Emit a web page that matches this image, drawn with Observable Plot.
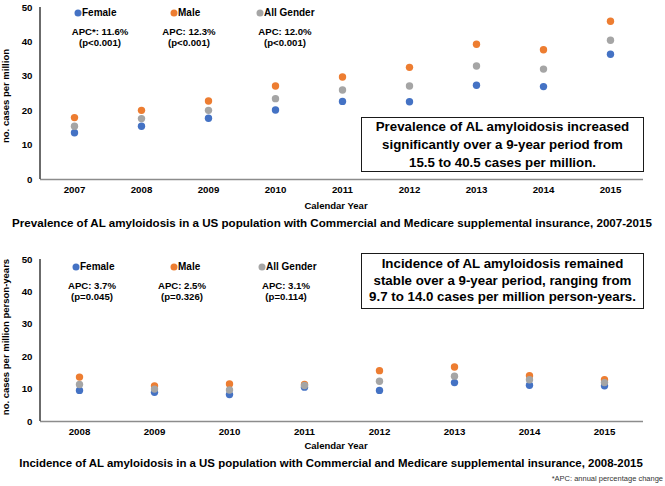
<!DOCTYPE html>
<html>
<head>
<meta charset="utf-8">
<script src="https://cdn.jsdelivr.net/npm/d3@7"></script>
<script src="https://cdn.jsdelivr.net/npm/@observablehq/plot@0.6"></script>
<style>
  html, body { margin: 0; padding: 0; background: #fff; }
  #wrap { position: relative; width: 665px; height: 486px; overflow: hidden; font-family: "Liberation Sans", Arial, sans-serif; color: #000; }
  .t { position: absolute; white-space: nowrap; font-weight: bold; line-height: 1.15; }
  .c { transform: translate(-50%, -50%); }
  .l { transform: translate(0, -50%); }
  .box { position: absolute; box-sizing: border-box; border: 1.6px solid #1a1a1a; display: flex; align-items: center; justify-content: center; text-align: center; font-weight: bold; font-size: 13.3px; background: #fff; }
  .dot { position: absolute; width: 7px; height: 7px; border-radius: 50%; transform: translate(-50%, -50%); }
  svg { position: absolute; left: 0; }
</style>
</head>
<body>
<div id="wrap"></div>
<script>
// ---------- data ----------
const seriesNames = ["Female", "Male", "All Gender"];
const seriesColors = ["#4472C4", "#ED7D31", "#A5A5A5"];

const prevYears = ["2007", "2008", "2009", "2010", "2011", "2012", "2013", "2014", "2015"];
const prevFemale = [13.6, 15.5, 17.8, 20.2, 22.7, 22.6, 27.4, 27.0, 36.4];
const prevMale   = [18.0, 20.1, 22.8, 27.2, 29.8, 32.6, 39.3, 37.7, 46.0];
const prevAll    = [15.5, 17.7, 20.1, 23.5, 26.0, 27.2, 33.0, 32.1, 40.5];
const prevAPC = ["APC*: 11.6%", "APC: 12.3%", "APC: 12.0%"];
const prevP   = ["(p<0.001)", "(p<0.001)", "(p<0.001)"];

const incYears = ["2008", "2009", "2010", "2011", "2012", "2013", "2014", "2015"];
const incFemale = [9.6, 9.0, 8.3, 10.6, 9.6, 12.0, 11.2, 11.0];
const incMale   = [13.7, 11.0, 11.6, 11.4, 15.7, 16.8, 14.1, 12.9];
const incAll    = [11.4, 10.0, 9.7, 11.1, 12.4, 14.0, 12.9, 12.0];
const incAPC = ["APC: 3.7%", "APC: 2.5%", "APC: 3.1%"];
const incP   = ["(p=0.045)", "(p=0.326)", "(p=0.114)"];

const yTicks = [0, 10, 20, 30, 40, 50];

// ---------- helpers ----------
const wrap = document.getElementById("wrap");
function txt(s, x, y, size, cls, extra) {
  const d = document.createElement("div");
  d.className = "t " + cls;
  d.textContent = s;
  d.style.left = x + "px"; d.style.top = y + "px"; d.style.fontSize = size + "px";
  if (extra) Object.assign(d.style, extra);
  wrap.appendChild(d);
  return d;
}
function legendDot(color, x, y) {
  const d = document.createElement("div");
  d.className = "dot"; d.style.background = color;
  d.style.left = x + "px"; d.style.top = y + "px";
  wrap.appendChild(d);
}
function box(lines, x, y, w, h, lh) {
  const d = document.createElement("div");
  d.className = "box";
  Object.assign(d.style, {left: x + "px", top: y + "px", width: w + "px", height: h + "px", lineHeight: lh + "px"});
  d.innerHTML = lines.join("<br>");
  wrap.appendChild(d);
}

function panel(years, F, M, A, height, marginTop, marginBottom, top) {
  const data = [];
  [[F, "Female"], [M, "Male"], [A, "All Gender"]].forEach(([arr, name]) =>
    years.forEach((yr, i) => data.push({year: yr, series: name, value: arr[i]})));
  const yAxisLine = (index, scales, values, dims) => {
    const l = document.createElementNS("http://www.w3.org/2000/svg", "line");
    l.setAttribute("x1", dims.marginLeft); l.setAttribute("x2", dims.marginLeft);
    l.setAttribute("y1", scales.y(0)); l.setAttribute("y2", scales.y(50));
    l.setAttribute("stroke", "#3a3a3a"); l.setAttribute("stroke-width", 1.5);
    return l;
  };
  const svg = Plot.plot({
    width: 665, height, marginLeft: 40, marginRight: 22, marginTop, marginBottom,
    style: {fontFamily: '"Liberation Sans", Arial, sans-serif', fontSize: "9.7px", fontWeight: "bold", color: "#000", background: "transparent", overflow: "visible"},
    x: {type: "point", domain: years, padding: 0.5, tickSize: 0, tickPadding: 7, label: null},
    y: {domain: [0, 50], ticks: yTicks, tickSize: 0, tickPadding: 8, label: null},
    color: {domain: seriesNames, range: seriesColors},
    marks: [
      Plot.ruleY([0], {stroke: "#8c8c8c", strokeWidth: 1.6}),
      yAxisLine,
      Plot.dot(data, {x: "year", y: "value", fill: "series", r: 3.7})
    ]
  });
  svg.style.top = top + "px";
  wrap.appendChild(svg);
}

// ---------- top panel ----------
panel(prevYears, prevFemale, prevMale, prevAll, 240, 7, 61, 0);
const legX1 = [78, 174, 260];
seriesNames.forEach((n, i) => { legendDot(seriesColors[i], legX1[i], 13); txt(n, legX1[i] + 4, 13, 10, "l"); });
const apcX1 = [100, 189, 285];
prevAPC.forEach((s, i) => { txt(s, apcX1[i], 32, 9.6, "c"); txt(prevP[i], apcX1[i], 43, 9.6, "c"); });
box(["Prevalence of AL amyloidosis increased", "significantly over a 9-year period from", "15.5 to 40.5 cases per million."], 361, 117, 283, 55, 18);
txt("no. cases per million", 6, 96, 9.5, "c", {transform: "translate(-50%,-50%) rotate(-90deg)"});
txt("Calendar Year", 336, 206, 9.5, "c");
txt("Prevalence of AL amyloidosis in a US population with Commercial and Medicare supplemental insurance, 2007-2015", 332, 223, 11.6, "c");

// ---------- bottom panel ----------
panel(incYears, incFemale, incMale, incAll, 246, 19, 65, 240);
const legX2 = [76, 174, 262];
seriesNames.forEach((n, i) => { legendDot(seriesColors[i], legX2[i], 267); txt(n, legX2[i] + 4, 267, 10, "l"); });
const apcX2 = [92, 182, 286];
incAPC.forEach((s, i) => { txt(s, apcX2[i], 286, 9.6, "c"); txt(incP[i], apcX2[i], 297, 9.6, "c"); });
box(["Incidence of AL amyloidosis remained", "stable over a 9-year period, ranging from", "9.7 to 14.0 cases per million person-years."], 361, 253, 283, 56, 16.5);
txt("no. cases per million person-years", 6, 337, 9.5, "c", {transform: "translate(-50%,-50%) rotate(-90deg)"});
txt("Calendar Year", 336, 446, 9.5, "c");
txt("Incidence of AL amyloidosis in a US population with Commercial and Medicare supplemental insurance, 2008-2015", 331, 464, 11.45, "c");
txt("*APC: annual percentage change", 663, 479, 7.5, "", {transform: "translate(-100%,-50%)", fontWeight: "normal", color: "#333"});
</script>
</body>
</html>
